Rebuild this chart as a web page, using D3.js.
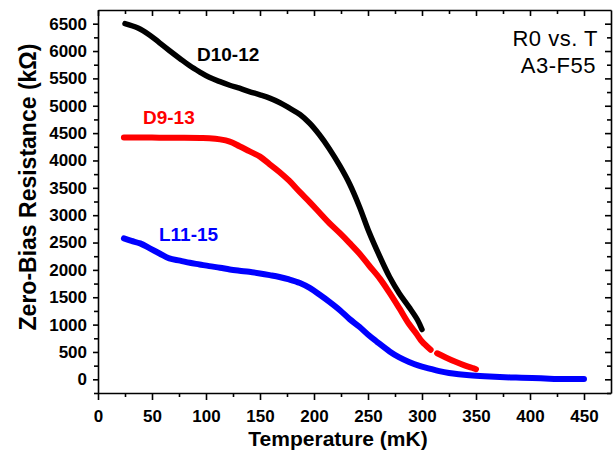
<!DOCTYPE html>
<html>
<head>
<meta charset="utf-8">
<script src="https://cdn.jsdelivr.net/npm/d3@7"></script>
<style>
body { margin: 0; background: #fff; }
.axis path, .axis line { stroke: #000; stroke-width: 1.6; }
.axis text { font-family: "Liberation Sans", Arial, sans-serif; font-weight: bold; font-size: 17px; fill: #000; }
.lbl { font-family: "Liberation Sans", Arial, sans-serif; font-weight: bold; }
</style>
</head>
<body>
<div id="chart"></div>
<script>
// values (T in mK, R in kOhm)
const blackT = [25, 37, 48, 57, 66, 76, 85, 94, 103, 113, 122, 131, 140, 150, 159, 168, 177, 187, 196, 205, 214, 224, 233, 242, 251, 261, 270, 279, 288, 296, 300];
const blackR = [6500, 6420, 6290, 6150, 6010, 5860, 5730, 5620, 5520, 5440, 5375, 5320, 5260, 5200, 5140, 5060, 4960, 4840, 4680, 4470, 4220, 3900, 3570, 3160, 2690, 2240, 1870, 1570, 1320, 1080, 910];

const redT = [24, 50, 75, 95, 103, 113, 122, 131, 140, 150, 159, 168, 177, 187, 196, 205, 214, 224, 233, 242, 251, 261, 270, 279, 288, 295, 300, 308, null, 314, 322, 331, 340, 348, 350];
const redR = [4420, 4418, 4415, 4410, 4405, 4385, 4345, 4260, 4170, 4070, 3930, 3790, 3630, 3420, 3240, 3050, 2860, 2670, 2490, 2300, 2080, 1840, 1580, 1300, 1010, 830, 690, 540, null, 476, 400, 320, 250, 200, 185];

const blueT = [24, 31, 39, 48, 57, 66, 76, 85, 94, 103, 113, 122, 131, 140, 150, 159, 168, 177, 187, 196, 205, 214, 224, 233, 242, 251, 258, 270, 279, 288, 297, 307, 316, 325, 334, 344, 358, 372, 387, 402, 418, 433, 450];
const blueR = [2576, 2530, 2484, 2393, 2300, 2210, 2170, 2130, 2100, 2069, 2040, 2008, 1985, 1965, 1935, 1904, 1870, 1825, 1760, 1670, 1550, 1420, 1263, 1100, 960, 800, 690, 510, 400, 317, 250, 196, 150, 115, 92, 73, 55, 42, 32, 24, 12, 5, 5];

const xTicks = [0, 50, 100, 150, 200, 250, 300, 350, 400, 450];
const yTicks = [0, 500, 1000, 1500, 2000, 2500, 3000, 3500, 4000, 4500, 5000, 5500, 6000, 6500];

const series = [
  {name: 'D10-12', color: '#000000', T: blackT, R: blackR, w: 5.5, lx: 197, ly: 61},
  {name: 'D9-13', color: '#ff0000', T: redT, R: redR, w: 6, lx: 143, ly: 124},
  {name: 'L11-15', color: '#0000ff', T: blueT, R: blueR, w: 6, lx: 159, ly: 241}
];

const margin = {top: 10, right: 3, bottom: 63, left: 98};
const width = 614 - margin.left - margin.right,
      height = 456 - margin.top - margin.bottom;

const svg = d3.select('#chart').append('svg')
    .attr('width', 614)
    .attr('height', 456)
  .append('g')
    .attr('transform', `translate(${margin.left}, ${margin.top})`);

const xScale = d3.scaleLinear().domain([0, 475]).range([0, width]);
const yScale = d3.scaleLinear().domain([-250, 6750]).range([height, 0]);

const xMinor = d3.range(25, 475, 50);
const yMinor = d3.range(-250, 6750, 500);

// minor ticks first
svg.append('g').attr('class', 'axis')
    .attr('transform', `translate(0, ${height})`)
    .call(d3.axisBottom(xScale).tickValues(xMinor).tickSize(4).tickFormat(''))
    .call(g => g.select('.domain').remove());
svg.append('g').attr('class', 'axis')
    .call(d3.axisTop(xScale).tickValues(xMinor).tickSize(-4).tickFormat(''))
    .call(g => g.select('.domain').remove());
svg.append('g').attr('class', 'axis')
    .call(d3.axisLeft(yScale).tickValues(yMinor).tickSize(4).tickFormat(''))
    .call(g => g.select('.domain').remove());
svg.append('g').attr('class', 'axis')
    .attr('transform', `translate(${width}, 0)`)
    .call(d3.axisRight(yScale).tickValues(yMinor).tickSize(-4).tickFormat(''))
    .call(g => g.select('.domain').remove());

// major ticks + frame
svg.append('g').attr('class', 'axis x-axis')
    .attr('transform', `translate(0, ${height})`)
    .call(d3.axisBottom(xScale).tickValues(xTicks).tickSize(7).tickPadding(10).tickSizeOuter(0).tickFormat(d3.format('d')));
svg.append('g').attr('class', 'axis')
    .call(d3.axisTop(xScale).tickValues(xTicks).tickSize(-6).tickFormat('').tickSizeOuter(0));
svg.append('g').attr('class', 'axis y-axis')
    .call(d3.axisLeft(yScale).tickValues(yTicks).tickSize(5).tickPadding(6).tickSizeOuter(0).tickFormat(d3.format('d')));
svg.append('g').attr('class', 'axis')
    .attr('transform', `translate(${width}, 0)`)
    .call(d3.axisRight(yScale).tickValues(yTicks).tickSize(-6).tickFormat('').tickSizeOuter(0));

// curves
const line = d3.line()
    .defined(d => d[0] !== null)
    .x(d => xScale(d[0]))
    .y(d => yScale(d[1]))
    .curve(d3.curveCatmullRom.alpha(0.5));

series.forEach(s => {
  const pts = s.T.map((t, i) => [t, s.R[i]]);
  svg.append('path')
    .datum(pts)
    .attr('fill', 'none')
    .attr('stroke', s.color)
    .attr('stroke-width', s.w)
    .attr('stroke-linecap', 'round')
    .attr('stroke-linejoin', 'round')
    .attr('d', line);
  svg.append('text')
    .attr('class', 'lbl')
    .attr('x', s.lx - margin.left)
    .attr('y', s.ly - margin.top)
    .attr('font-size', 19)
    .attr('fill', s.color)
    .text(s.name);
});

// annotation
const note = svg.append('text')
    .attr('font-family', '"Liberation Sans", Arial, sans-serif')
    .attr('font-size', 22)
    .attr('letter-spacing', 0.5)
    .attr('text-anchor', 'end');
note.append('tspan').attr('x', 598 - margin.left).attr('y', 46 - margin.top).text('R0 vs. T');
note.append('tspan').attr('x', 596 - margin.left).attr('y', 73 - margin.top).text('A3-F55');

// axis titles
svg.append('text')
    .attr('class', 'lbl')
    .attr('x', 338 - margin.left)
    .attr('y', 446 - margin.top)
    .attr('font-size', 21)
    .attr('text-anchor', 'middle')
    .text('Temperature (mK)');

svg.append('text')
    .attr('class', 'lbl')
    .attr('transform', `translate(${36 - margin.left}, ${187 - margin.top}) rotate(-90)`)
    .attr('font-size', 23)
    .attr('text-anchor', 'middle')
    .text('Zero-Bias Resistance (kΩ)');
</script>
</body>
</html>
